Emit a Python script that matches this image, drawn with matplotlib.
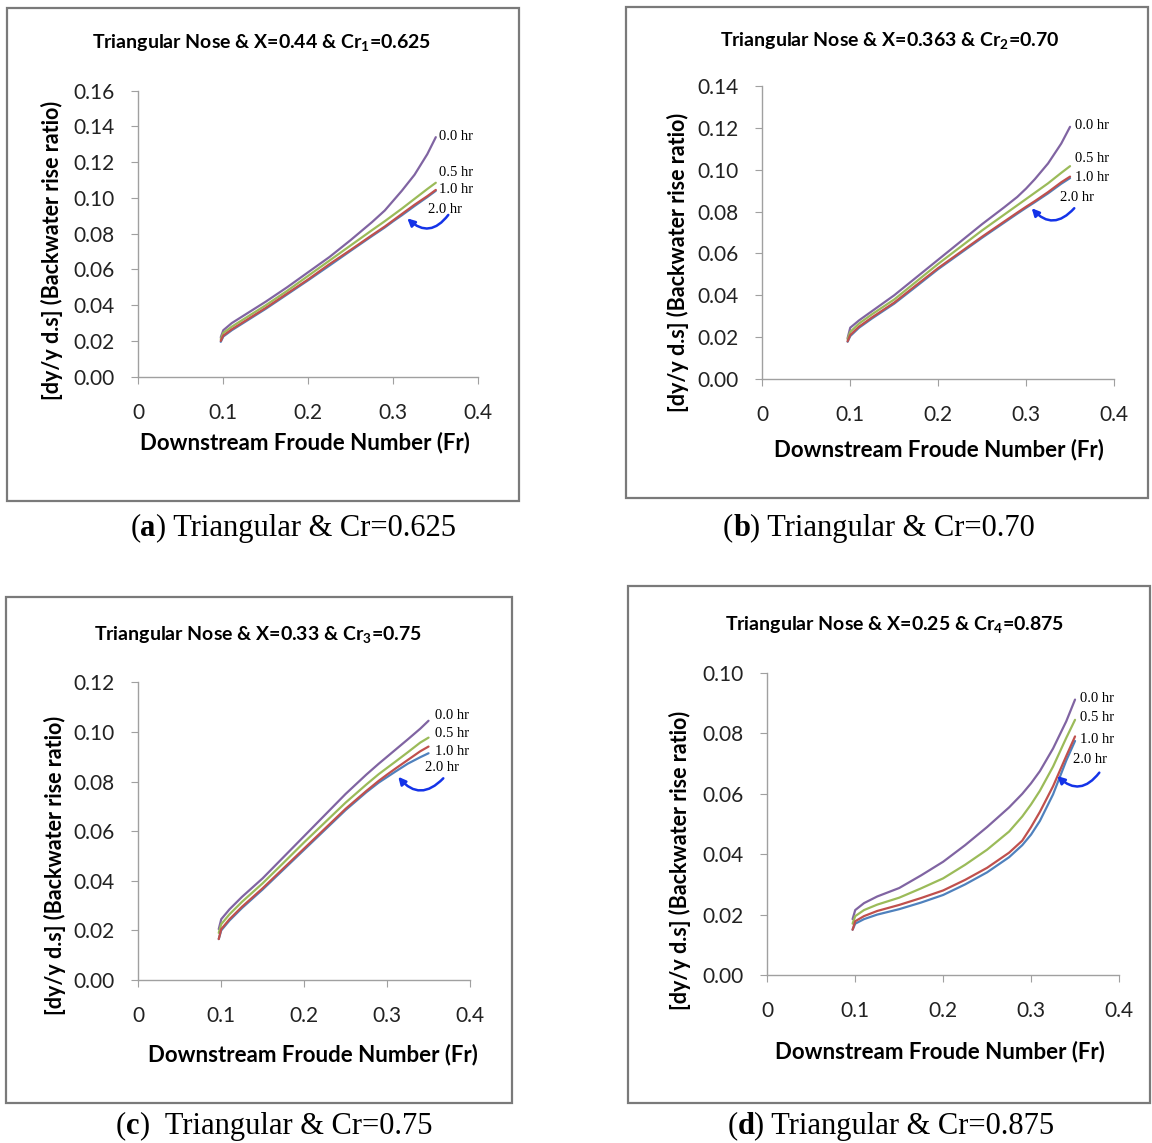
import matplotlib
matplotlib.use('Agg')
import matplotlib.pyplot as plt
from matplotlib.patches import Rectangle
from matplotlib.offsetbox import TextArea, HPacker, AnnotationBbox

W, H = 1152, 1143

plt.rcParams['font.family'] = ['Lato', 'DejaVu Sans']
plt.rcParams['mathtext.fontset'] = 'custom'
plt.rcParams['mathtext.rm'] = 'Lato'
plt.rcParams['mathtext.bf'] = 'Lato:bold'

# Froude numbers where the curves were read
fr = [0.097, 0.10, 0.11, 0.125, 0.15, 0.175, 0.20, 0.225, 0.25, 0.275, 0.29, 0.30, 0.31, 0.325, 0.34, 0.35]
hours = ['0.0 hr', '0.5 hr', '1.0 hr', '2.0 hr']
xticks = [0, 0.1, 0.2, 0.3, 0.4]
xtick_labels = ['0', '0.1', '0.2', '0.3', '0.4']

# (a) Cr=0.625
a_00 = [0.022, 0.026, 0.030, 0.0345, 0.042, 0.050, 0.0585, 0.067, 0.0765, 0.0865, 0.093, 0.0985, 0.104, 0.113, 0.1245, 0.134]
a_05 = [0.021, 0.0245, 0.028, 0.0325, 0.040, 0.048, 0.0565, 0.065, 0.0735, 0.082, 0.087, 0.0905, 0.094, 0.0995, 0.105, 0.1085]
a_10 = [0.020, 0.023, 0.0265, 0.031, 0.0385, 0.0465, 0.0545, 0.063, 0.071, 0.0792, 0.084, 0.0875, 0.091, 0.0962, 0.101, 0.1045]
a_20 = [0.0195, 0.0225, 0.026, 0.0305, 0.038, 0.046, 0.054, 0.0622, 0.0705, 0.0787, 0.0835, 0.087, 0.0903, 0.0955, 0.1005, 0.104]

# (b) Cr=0.70
b_00 = [0.0195, 0.0245, 0.028, 0.0325, 0.040, 0.0485, 0.057, 0.0655, 0.074, 0.082, 0.087, 0.091, 0.0955, 0.103, 0.1125, 0.1205]
b_05 = [0.019, 0.0225, 0.0265, 0.031, 0.038, 0.0465, 0.055, 0.063, 0.071, 0.0785, 0.083, 0.086, 0.089, 0.0935, 0.0985, 0.1017]
b_10 = [0.018, 0.021, 0.025, 0.0295, 0.0365, 0.0448, 0.053, 0.0605, 0.068, 0.0752, 0.0795, 0.0823, 0.085, 0.0893, 0.094, 0.0967]
b_20 = [0.0178, 0.0205, 0.0245, 0.029, 0.036, 0.0442, 0.0525, 0.060, 0.0675, 0.0747, 0.079, 0.0818, 0.0845, 0.0887, 0.0933, 0.096]

# (c) Cr=0.75
c_00 = [0.0205, 0.0245, 0.0285, 0.0335, 0.041, 0.0495, 0.058, 0.0665, 0.075, 0.0828, 0.0872, 0.090, 0.0928, 0.097, 0.1013, 0.1045]
c_05 = [0.019, 0.0225, 0.0265, 0.0315, 0.039, 0.0472, 0.0555, 0.0635, 0.0715, 0.0788, 0.083, 0.0855, 0.088, 0.0918, 0.0957, 0.0977]
c_10 = [0.0165, 0.0205, 0.0245, 0.0295, 0.037, 0.045, 0.053, 0.061, 0.069, 0.0762, 0.0803, 0.0828, 0.0852, 0.0887, 0.0922, 0.0941]
c_20 = [0.0165, 0.020, 0.024, 0.029, 0.0365, 0.0445, 0.0525, 0.0605, 0.0685, 0.0757, 0.0796, 0.0818, 0.084, 0.0872, 0.0898, 0.0914]

# (d) Cr=0.875
d_00 = [0.0185, 0.0215, 0.0238, 0.026, 0.0288, 0.033, 0.0375, 0.043, 0.049, 0.0555, 0.060, 0.0635, 0.0675, 0.075, 0.084, 0.0912]
d_05 = [0.017, 0.0195, 0.0215, 0.0233, 0.0256, 0.0287, 0.032, 0.0365, 0.0415, 0.0475, 0.0525, 0.0565, 0.061, 0.069, 0.0785, 0.0845]
d_10 = [0.015, 0.0178, 0.0195, 0.0212, 0.0232, 0.0255, 0.028, 0.0315, 0.0355, 0.0405, 0.0445, 0.049, 0.054, 0.0625, 0.0725, 0.079]
d_20 = [0.015, 0.017, 0.0185, 0.020, 0.0218, 0.024, 0.0265, 0.030, 0.034, 0.039, 0.043, 0.0465, 0.051, 0.0598, 0.071, 0.0775]

colors = ['#8064A2', '#9BBB59', '#4F81BD', '#C0504D']  # 0.0, 0.5, 2.0, 1.0 draw order


def fx(x):
    return x / W


def fy(y):
    return 1 - y / H


panels = [
    dict(ax=(138.3, 90.7, 478.3, 376.7), ymax=0.16, series=(a_00, a_05, a_10, a_20),
         title='Triangular Nose & X=0.44 & Cr$_{\\mathbf{1}}$=0.625', title_xy=(262, 43),
         ylab_xy=(52, 250), xlab_xy=(305, 443), box=(7.3, 8, 519, 500.7),
         cap=('a', ') Triangular & Cr=0.625'), cap_xy=(293, 528),
         lab_x=0.354, lab_y=(0.1343, 0.1145, 0.1045), lab2=(0.3405, 0.0935),
         arr=((0.3647, 0.0905), (0.3165, 0.0886))),
    dict(ax=(762.3, 86, 1114, 379), ymax=0.14, series=(b_00, b_05, b_10, b_20),
         title='Triangular Nose & X=0.363 & Cr$_{\\mathbf{2}}$=0.70', title_xy=(890, 41),
         ylab_xy=(678, 262), xlab_xy=(939, 450), box=(626, 7, 1148, 498.3),
         cap=('b', ') Triangular & Cr=0.70'), cap_xy=(879, 528),
         lab_x=0.3556, lab_y=(0.121, 0.1053, 0.0963), lab2=(0.3386, 0.0868),
         arr=((0.3548, 0.0816), (0.3064, 0.0816))),
    dict(ax=(138.3, 682.3, 470, 980), ymax=0.12, series=(c_00, c_05, c_10, c_20),
         title='Triangular Nose & X=0.33 & Cr$_{\\mathbf{3}}$=0.75', title_xy=(258, 635),
         ylab_xy=(55, 865), xlab_xy=(313, 1055), box=(6, 596.7, 512, 1103),
         cap=('c', ')  Triangular & Cr=0.75'), cap_xy=(274, 1126),
         lab_x=0.3578, lab_y=(0.1068, 0.0994, 0.092), lab2=(0.3457, 0.0858),
         arr=((0.3678, 0.0813), (0.3135, 0.0819))),
    dict(ax=(767.3, 673, 1119, 975), ymax=0.10, series=(d_00, d_05, d_10, d_20),
         title='Triangular Nose & X=0.25 & Cr$_{\\mathbf{4}}$=0.875', title_xy=(895, 625),
         ylab_xy=(680, 860), xlab_xy=(940, 1052), box=(628, 585.7, 1150, 1102.7),
         cap=('d', ') Triangular & Cr=0.875'), cap_xy=(891, 1126),
         lab_x=0.3556, lab_y=(0.0916, 0.0852, 0.078), lab2=(0.3473, 0.0712),
         arr=((0.3776, 0.067), (0.3298, 0.0659))),
]

fig = plt.figure(figsize=(W / 100, H / 100), dpi=100)

for p in panels:
    bx0, by0, bx1, by1 = p['box']
    fig.add_artist(Rectangle((fx(bx0), fy(by1)), fx(bx1 - bx0), (by1 - by0) / H,
                             transform=fig.transFigure, fill=False,
                             edgecolor='#7a7a7a', lw=1.6))

    x0, y0, x1, y1 = p['ax']
    ax = fig.add_axes([fx(x0), fy(y1), fx(x1 - x0), (y1 - y0) / H])
    s00, s05, s10, s20 = p['series']
    for ys, c in zip((s00, s05, s20, s10), colors):
        ax.plot(fr, ys, color=c, lw=1.6, solid_capstyle='round', solid_joinstyle='round')

    ax.set_xlim(0, 0.4)
    ax.set_ylim(0, p['ymax'])
    ax.set_xticks(xticks)
    ax.set_xticklabels(xtick_labels)
    yt = [i * 0.02 for i in range(int(round(p['ymax'] / 0.02)) + 1)]
    ax.set_yticks(yt)
    ax.set_yticklabels(['%.2f' % v for v in yt])
    for side in ['top', 'right']:
        ax.spines[side].set_visible(False)
    for side in ['left', 'bottom']:
        ax.spines[side].set_color('#a0a0a0')
        ax.spines[side].set_linewidth(1.0)
    ax.tick_params(axis='both', direction='out', length=5, color='#a0a0a0',
                   labelsize=15, labelcolor='#222222')
    ax.tick_params(axis='x', pad=14)
    ax.tick_params(axis='y', pad=12)
    ax.patch.set_alpha(0)

    # curve labels
    serif = dict(family='Liberation Serif', fontsize=10.5, va='center', ha='left')
    for h, yy in zip(hours[:3], p['lab_y']):
        ax.text(p['lab_x'], yy, h, **serif)
    ax.text(p['lab2'][0], p['lab2'][1], hours[3], **serif)
    start, end = p['arr']
    ax.annotate('', xy=end, xytext=start,
                arrowprops=dict(arrowstyle='-|>', connectionstyle='arc3,rad=-0.55',
                                color='#1433e8', lw=1.8, mutation_scale=11,
                                shrinkA=0, shrinkB=0))

    fig.text(fx(p['title_xy'][0]), fy(p['title_xy'][1]), p['title'],
             ha='center', va='center', fontsize=14, fontweight='bold')
    fig.text(fx(p['xlab_xy'][0]), fy(p['xlab_xy'][1]), 'Downstream Froude Number (Fr)',
             ha='center', va='center', fontsize=16, fontweight='bold')
    fig.text(fx(p['ylab_xy'][0]), fy(p['ylab_xy'][1]), '[dy/y d.s] (Backwater rise ratio)',
             ha='center', va='center', rotation=90, fontsize=15.5, fontweight='bold')

    # caption under the panel
    tp = dict(family='Liberation Serif', fontsize=22)
    tpb = dict(family='Liberation Serif', fontsize=22, fontweight='bold')
    box = HPacker(children=[TextArea('(', textprops=tp), TextArea(p['cap'][0], textprops=tpb),
                            TextArea(p['cap'][1], textprops=tp)],
                  align='baseline', pad=0, sep=0)
    ab = AnnotationBbox(box, (fx(p['cap_xy'][0]), fy(p['cap_xy'][1])),
                        xycoords='figure fraction', frameon=False, box_alignment=(0.5, 0.5))
    fig.add_artist(ab)

fig.savefig('out.png', dpi=100)
